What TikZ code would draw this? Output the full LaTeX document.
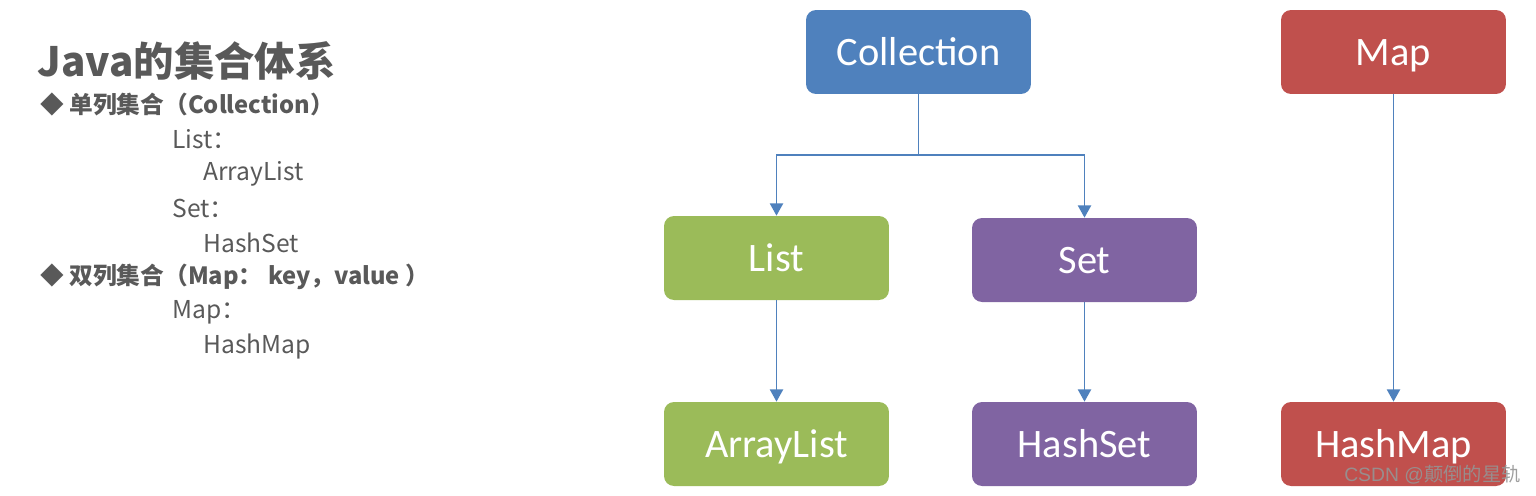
\documentclass[tikz,border=0pt]{standalone}
\usepackage{fontspec}
\setmainfont{Carlito}
\newfontfamily\cjk{Noto Sans CJK SC}
\newfontfamily\wmark{Liberation Sans}
\usetikzlibrary{arrows.meta}
\definecolor{boxblue}{HTML}{4F81BD}
\definecolor{boxgreen}{HTML}{9BBB59}
\definecolor{boxpurple}{HTML}{8064A2}
\definecolor{boxred}{HTML}{C0504D}
\definecolor{txtgray}{HTML}{595959}
\begin{document}
\begin{tikzpicture}[x=0.02cm, y=-0.02cm,
    box/.style={rounded corners=0.2cm, minimum width=4.5cm, minimum height=1.68cm,
      inner sep=0pt, text height=16pt, text depth=1.2pt, text=white,
      font=\fontsize{23}{27}\selectfont},
    arr/.style={-{Triangle[width=7.5pt,length=7pt]}, draw=boxblue, line width=1pt},
    head/.style={anchor=west, inner sep=0pt, text=txtgray, font=\cjk\bfseries\fontsize{13.5}{16}\selectfont},
    item/.style={anchor=west, inner sep=0pt, text=txtgray, font=\cjk\fontsize{14}{17}\selectfont}]
  \useasboundingbox (0,0) rectangle (1536,495);
  % left column
  \node[anchor=west, inner sep=0pt, text=txtgray, font=\cjk\bfseries\fontsize{23}{27}\selectfont]
    (title) at (37,61) {Java的集合体系};
  \node[head] (single) at (40,104) {◆ 单列集合（Collection）};
  \node[item] (ilist) at (172,139) {List：};
  \node[item] (iarray) at (203,174) {ArrayList};
  \node[item] (iset) at (172,208) {Set：};
  \node[item] (ihset) at (203,243) {HashSet};
  \node[head] (double) at (40,277) {◆ 双列集合（Map： key，value ）};
  \node[item] (imap) at (172,312) {Map：};
  \node[item] (ihmap) at (203,347) {HashMap};
  % boxes
  \node[box, fill=boxblue] (coll) at (918.5,52) {Collection};
  \node[box, fill=boxred] (map) at (1393.5,52) {Map};
  \node[box, fill=boxgreen] (list) at (776.5,258) {List};
  \node[box, fill=boxpurple] (set) at (1084.5,260) {Set};
  \node[box, fill=boxgreen] (alist) at (776.5,444) {ArrayList};
  \node[box, fill=boxpurple] (hset) at (1084.5,444) {HashSet};
  \node[box, fill=boxred] (hmap) at (1393.5,444) {HashMap};
  % connectors
  \coordinate (split) at (918.5,155);
  \draw[draw=boxblue, line width=1pt] (coll.south) -- (split);
  \draw[arr] (split) -| (list.north);
  \draw[arr] (split) -| (set.north);
  \draw[arr] (list) -- (alist);
  \draw[arr] (set) -- (hset);
  \draw[arr] (map) -- (hmap);
  % watermark
  \node[anchor=east, inner sep=0pt, text=white!58!black, opacity=0.9,
    font=\wmark\fontsize{11}{13}\selectfont] (wm) at (1521,475) {CSDN @{\cjk 颠倒的星轨}};
\end{tikzpicture}
\end{document}
